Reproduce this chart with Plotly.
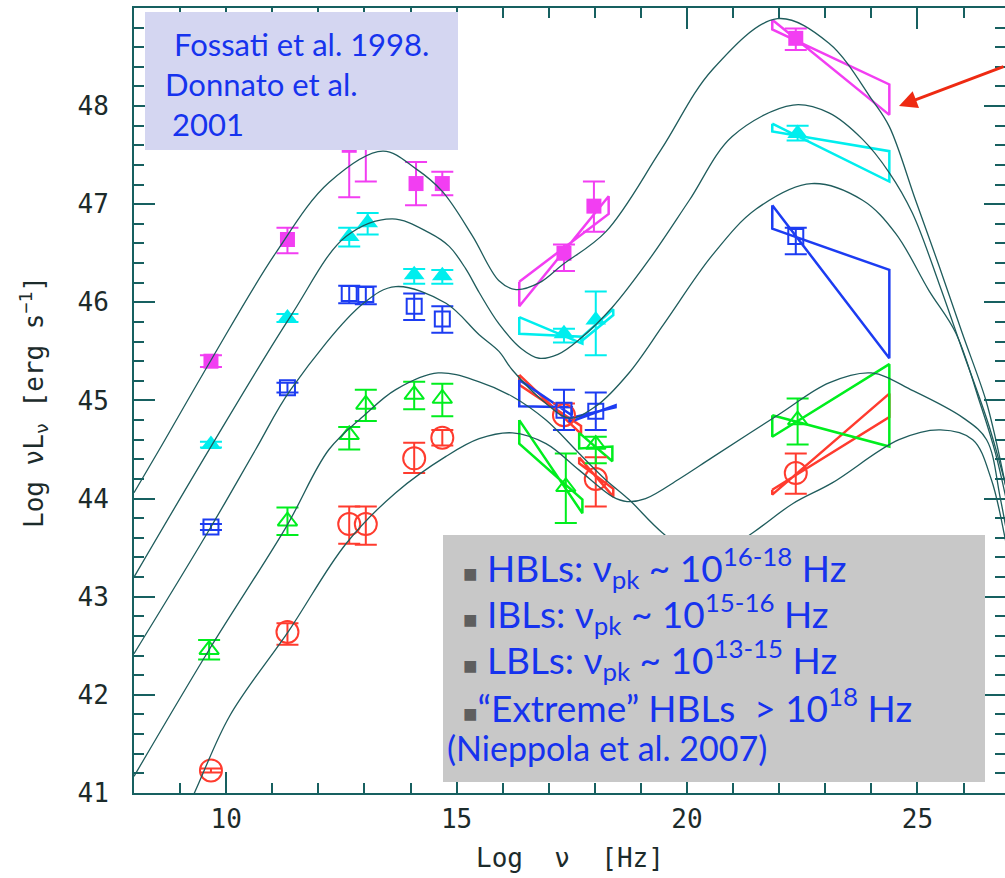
import plotly.graph_objects as go

# ---------------- model SED curves: log(nu) vs log(nu L_nu) ----------------
curve1_x = [8.0, 8.55, 9.67, 11.07, 12.23, 13.4, 14.12, 14.69, 15.34, 15.92, 16.29, 16.8, 17.29,
            18.24, 19.43, 20.55, 21.96, 23.08, 24.02, 24.39, 24.96, 25.47, 25.97, 26.48, 26.7, 27.1]
curve1_y = [44.06, 44.5, 45.41, 46.5, 47.22, 47.54, 47.36, 47.13, 46.68, 46.22, 46.13, 46.2, 46.38,
            46.72, 47.55, 48.37, 48.89, 48.64, 48.06, 47.79, 47.04, 46.37, 45.69, 45.01, 44.6, 43.7]

curve2_x = [8.0, 9.67, 11.4, 12.6, 13.6, 14.4, 14.84, 15.2, 15.49, 15.92, 16.4, 16.79, 17.2, 17.66,
            18.38, 19.2, 20.05, 20.98, 22.3, 23.08, 23.81, 24.39, 24.89, 25.47, 25.97, 26.56, 27.1]
curve2_y = [43.2, 44.53, 45.86, 46.67, 46.85, 46.71, 46.57, 46.34, 46.1, 45.78, 45.53, 45.43, 45.47, 45.62,
            45.95, 46.45, 47.04, 47.69, 48.01, 47.93, 47.66, 47.32, 46.91, 46.19, 45.52, 44.73, 43.8]

curve3_x = [8.0, 9.63, 10.64, 11.4, 12.98, 13.68, 14.77, 15.49, 15.92, 16.21, 16.94, 17.45, 18.02,
            18.74, 19.5, 20.55, 21.5, 22.7, 23.81, 24.53, 25.25, 25.83, 26.34, 26.7, 27.1]
curve3_y = [42.42, 43.68, 44.5, 45.11, 45.99, 46.16, 45.99, 45.67, 45.5, 45.31, 44.97, 44.82, 44.94,
            45.28, 45.78, 46.48, 46.95, 47.21, 47.04, 46.7, 46.12, 45.69, 45.0, 44.45, 43.6]

curve4_x = [8.0, 9.63, 11.3, 12.23, 13.0, 13.68, 14.6, 15.49, 16.21, 16.94, 17.66, 18.24, 18.74,
            19.47, 20.4, 21.42, 22.3, 23.15, 24.6, 25.5, 26.2, 26.6, 26.9, 27.2]
curve4_y = [41.17, 42.46, 43.71, 44.5, 44.85, 45.11, 45.28, 45.19, 45.04, 44.8, 44.46, 44.19, 43.99,
            43.65, 43.35, 43.65, 43.95, 44.16, 44.6, 44.7, 44.6, 44.2, 43.6, 42.8]

curve5_x = [8.8, 9.31, 10.07, 11.37, 12.6, 13.68, 14.77, 15.49, 16.21, 16.94, 17.66, 18.38, 18.7,
            19.1, 19.83, 20.55, 22.0, 23.08, 24.0, 24.9, 26.0, 26.5, 26.8, 27.1]
curve5_y = [40.5, 41.0, 41.78, 42.66, 43.54, 44.06, 44.43, 44.61, 44.67, 44.56, 44.29, 44.02, 43.97,
            44.0, 44.2, 44.42, 44.86, 45.18, 45.28, 45.1, 44.82, 44.6, 44.0, 43.2]

# ---------------- binned data points (log nu, log nuL_nu, error +/-) ----------------
mag_x = [9.67, 11.33, 12.67, 13.03, 14.12, 14.69, 17.33, 17.98, 22.36]
mag_y = [45.40, 46.64, 47.60, 47.75, 47.21, 47.21, 46.50, 46.98, 48.69]
mag_ep = [0.06, 0.12, 0.53, 0.52, 0.22, 0.12, 0.09, 0.25, 0.10]
mag_em = [0.06, 0.14, 0.53, 0.52, 0.22, 0.12, 0.18, 0.26, 0.12]

cyan_x = [9.67, 11.33, 12.67, 13.07, 14.08, 14.69, 17.33, 18.02, 22.40]
cyan_y = [44.55, 45.84, 46.67, 46.81, 46.28, 46.27, 45.68, 45.82, 47.72]
cyan_ep = [0.03, 0.04, 0.09, 0.10, 0.06, 0.06, 0.05, 0.29, 0.08]
cyan_em = [0.03, 0.04, 0.10, 0.12, 0.09, 0.08, 0.09, 0.36, 0.07]

blue_x = [9.67, 11.33, 12.67, 13.03, 14.08, 14.69, 17.33, 18.02, 22.36]
blue_y = [43.71, 45.13, 46.09, 46.08, 45.96, 45.83, 44.90, 44.89, 46.67]
blue_ep = [0.03, 0.05, 0.08, 0.08, 0.13, 0.13, 0.21, 0.19, 0.09]
blue_em = [0.03, 0.05, 0.10, 0.10, 0.14, 0.14, 0.20, 0.19, 0.18]

green_x = [9.63, 11.33, 12.67, 13.03, 14.08, 14.69, 17.37, 18.02, 22.40]
green_y = [42.46, 43.77, 44.65, 44.96, 45.06, 45.02, 44.12, 44.55, 44.80]
green_ep = [0.10, 0.14, 0.08, 0.15, 0.13, 0.15, 0.34, 0.08, 0.22]
green_em = [0.10, 0.14, 0.15, 0.17, 0.15, 0.18, 0.37, 0.19, 0.25]

red_x = [9.67, 11.33, 12.67, 13.03, 14.08, 14.69, 17.33, 18.02, 22.36]
red_y = [41.23, 42.64, 43.74, 43.74, 44.41, 44.62, 44.85, 44.20, 44.26]
red_ep = [0.02, 0.09, 0.18, 0.18, 0.16, 0.08, 0.12, 0.22, 0.20]
red_em = [0.02, 0.13, 0.20, 0.21, 0.15, 0.08, 0.15, 0.28, 0.21]

# ---------------- spectral bow-ties: (x_left, x_right, yA_left, yA_right, yB_left, yB_right) ----------------
mag_bowties = [(16.36, 18.30, 46.21, 46.90, 45.96, 47.08),
               (21.85, 24.39, 48.88, 47.91, 48.78, 48.22)]
cyan_bowties = [(16.36, 17.73, 45.85, 45.58, 45.68, 45.65),
                (17.70, 18.40, 45.64, 45.93, 45.60, 45.87),
                (21.85, 24.39, 47.82, 47.23, 47.74, 47.54)]
blue_bowties = [(16.36, 17.50, 45.21, 44.85, 44.94, 44.93),
                (17.45, 18.45, 44.78, 44.95, 44.82, 44.93),
                (21.85, 24.39, 46.99, 45.43, 46.75, 46.33)]
green_bowties = [(16.36, 17.73, 44.80, 43.85, 44.56, 43.99),
                 (17.66, 18.38, 44.67, 44.38, 44.51, 44.53),
                 (21.85, 24.39, 44.85, 44.53, 44.63, 45.37)]
red_bowties = [(16.36, 17.70, 45.26, 44.66, 45.16, 44.74),
               (17.66, 18.40, 44.42, 44.02, 44.36, 44.10),
               (21.85, 24.39, 44.09, 44.83, 44.04, 45.07)]

MAG, CYAN, BLUE, GREEN, RED = "#f23ef2", "#00eeee", "#1c3cf2", "#00ee1e", "#ff3b2e"
CURVE = "#1f5c5c"
AXIS = "#176060"

X_RANGE = [8, 26.9]
Y_RANGE = [41, 48.999]

fig = go.Figure()


def add_bowties(ties, color):
    for xl, xr, yal, yar, ybl, ybr in ties:
        fig.add_trace(go.Scatter(
            x=[xl, xr, xr, xl, xl], y=[yal, yar, ybr, ybl, yal],
            mode="lines", line=dict(color=color, width=2.5),
            hoverinfo="skip", showlegend=False))


def add_points(x, y, ep, em, color, symbol, size, filled):
    fig.add_trace(go.Scatter(
        x=x, y=y, mode="markers",
        marker=dict(symbol=symbol, size=size, color=color,
                    line=dict(color=color, width=0 if filled else 2)),
        error_y=dict(type="data", symmetric=False, array=ep, arrayminus=em,
                     color=color, thickness=2, width=11),
        showlegend=False))


add_bowties(red_bowties, RED)
add_bowties(green_bowties, GREEN)
add_bowties(blue_bowties, BLUE)
add_bowties(cyan_bowties, CYAN)
add_bowties(mag_bowties, MAG)

add_points(red_x, red_y, red_ep, red_em, RED, "circle-open", 22, False)
add_points(green_x, green_y, green_ep, green_em, GREEN, "triangle-up-open", 17, False)
add_points(blue_x, blue_y, blue_ep, blue_em, BLUE, "square-open", 15, False)
add_points(cyan_x, cyan_y, cyan_ep, cyan_em, CYAN, "triangle-up", 18, True)
add_points(mag_x, mag_y, mag_ep, mag_em, MAG, "square", 15, True)

for cx, cy in [(curve1_x, curve1_y), (curve2_x, curve2_y), (curve3_x, curve3_y),
               (curve4_x, curve4_y), (curve5_x, curve5_y)]:
    fig.add_trace(go.Scatter(x=cx, y=cy, mode="lines",
                             line=dict(color=CURVE, width=1.3, shape="spline", smoothing=1.0),
                             hoverinfo="skip", showlegend=False))

# empty trace that carries the top / right tick axes
fig.add_trace(go.Scatter(x=[None], y=[None], xaxis="x2", yaxis="y2", showlegend=False,
                         hoverinfo="skip"))

tickfont = dict(family="DejaVu Sans Mono", size=26, color="#1c2b2b")
common = dict(ticks="inside", ticklen=21, tickwidth=2, tickcolor=AXIS, showline=True,
              linecolor=AXIS, linewidth=2, showgrid=False, zeroline=False)
xminor = dict(ticks="inside", ticklen=10, tickwidth=2, tickcolor=AXIS, dtick=1, tick0=0, showgrid=False)
yminor = dict(ticks="inside", ticklen=10, tickwidth=2, tickcolor=AXIS, dtick=0.2, tick0=0, showgrid=False)

fig.update_layout(
    xaxis=dict(range=X_RANGE, tick0=0, dtick=5, tickfont=tickfont, ticklabelstandoff=2,
               minor=xminor, **common),
    yaxis=dict(range=Y_RANGE, tick0=0, dtick=1, tickfont=tickfont, ticklabelstandoff=18,
               minor=yminor, **common),
    xaxis2=dict(range=X_RANGE, overlaying="x", side="top", anchor="y2", tick0=0, dtick=5,
                showticklabels=False, minor=xminor, **common),
    yaxis2=dict(range=Y_RANGE, overlaying="y", side="right", anchor="x2", tick0=0, dtick=1,
                showticklabels=False, minor=yminor, **common),
)

W, H = 1005, 878
L, R, T, B = 134, 0, 8, 85
PW, PH = W - L - R, H - T - B


def px(xp):
    return (xp - L) / PW


def py(yp):
    return (H - B - yp) / PH


shapes = [
    dict(type="rect", xref="paper", yref="paper", x0=px(145), x1=px(458), y0=py(150), y1=py(12),
         fillcolor="#d4d6f1", line=dict(width=0), layer="above"),
    dict(type="rect", xref="paper", yref="paper", x0=px(443), x1=px(985), y0=py(782), y1=py(535),
         fillcolor="#c8c8c8", line=dict(width=0), layer="above"),
]

TXT = "#1633ee"
BOXFONT = "Lato"
annotations = []
for text, x0, yc in [("Fossati et al. 1998.", 172, 44), ("Donnato et al.", 163, 84), ("2001", 170, 124)]:
    annotations.append(dict(text=text, xref="paper", yref="paper", x=px(x0), y=py(yc),
                            xanchor="left", yanchor="middle", showarrow=False,
                            font=dict(family=BOXFONT, size=31, color=TXT)))

bullet = '<span style="color:#5e5e5e; font-size:24px">■</span>'
legend_lines = [
    (bullet + " HBLs: ν<sub>pk</sub> ~ 10<sup>16-18</sup> Hz", 461, 567, 37),
    (bullet + " IBLs: ν<sub>pk</sub> ~ 10<sup>15-16</sup> Hz", 461, 613, 37),
    (bullet + " LBLs: ν<sub>pk</sub> ~ 10<sup>13-15</sup> Hz", 461, 659, 37),
    (bullet + "“Extreme” HBLs \u00a0> 10<sup>18</sup> Hz", 461, 705, 37),
    ("(Nieppola et al. 2007)", 445, 747, 34),
]
for text, x0, yc, size in legend_lines:
    annotations.append(dict(text=text, xref="paper", yref="paper", x=px(x0), y=py(yc),
                            xanchor="left", yanchor="middle", showarrow=False,
                            font=dict(family=BOXFONT, size=size, color=TXT)))

TITLE_FONT = dict(family="DejaVu Sans Mono", size=26, color="#1c2b2b")
annotations.append(dict(text="Log\u00a0\u00a0ν\u00a0\u00a0[Hz]", xref="paper", yref="paper",
                        x=px(570), y=py(858), xanchor="center", yanchor="middle",
                        showarrow=False, font=TITLE_FONT))
annotations.append(dict(text="Log νL<sub>ν</sub> [erg s<sup>−1</sup>]", xref="paper", yref="paper",
                        x=px(33), y=py(402), xanchor="center", yanchor="middle", textangle=-90,
                        showarrow=False, font=TITLE_FONT))

# red arrow pointing at the gamma-ray bow-tie
annotations.append(dict(text="", x=24.6, y=48.0, xref="x", yref="y", ax=108, ay=-40,
                        showarrow=True, arrowhead=2, arrowsize=1.2, arrowwidth=3,
                        arrowcolor="#ee2a12"))

fig.update_layout(width=W, height=H, margin=dict(l=L, r=R, t=T, b=B),
                  plot_bgcolor="white", paper_bgcolor="white",
                  shapes=shapes, annotations=annotations, showlegend=False)

fig.write_html("out.html")
